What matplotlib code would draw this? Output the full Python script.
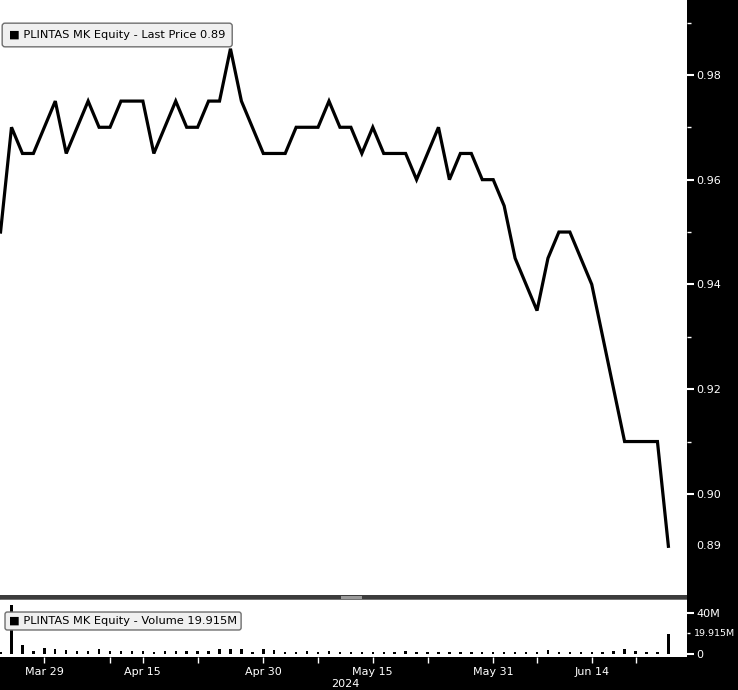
import matplotlib
matplotlib.use("Agg")
import matplotlib.pyplot as plt
import matplotlib.transforms as mtransforms
import numpy as np
import pandas as pd

# ---------------- data ----------------
holidays = ['2024-04-10', '2024-04-11', '2024-05-01', '2024-05-22', '2024-06-03', '2024-06-17']
dates = pd.bdate_range('2024-03-25', '2024-06-26', freq='C', holidays=holidays)

price = [0.95, 0.97, 0.965, 0.965, 0.97, 0.975, 0.965, 0.97, 0.975, 0.97,
         0.97, 0.975, 0.975, 0.975, 0.965, 0.97, 0.975, 0.97, 0.97, 0.975,
         0.975, 0.985, 0.975, 0.97, 0.965, 0.965, 0.965, 0.97, 0.97, 0.97,
         0.975, 0.97, 0.97, 0.965, 0.97, 0.965, 0.965, 0.965, 0.96, 0.965,
         0.97, 0.96, 0.965, 0.965, 0.96, 0.96, 0.955, 0.945, 0.94, 0.935,
         0.945, 0.95, 0.95, 0.945, 0.94, 0.93, 0.92, 0.91, 0.91, 0.91,
         0.91, 0.89]

volume_m = [2, 48, 9, 3, 6, 5, 4, 3, 3, 5,
            3, 3, 2.5, 2.5, 2, 3, 3, 3, 2.5, 2.5,
            4.5, 5, 5, 2, 5, 3.5, 2, 2, 3, 2,
            3, 2, 2, 2, 2, 2, 2, 3, 2, 2,
            2, 2, 2, 2, 2, 2, 2, 2, 2, 2,
            3.5, 2, 2, 2, 2, 2, 3, 4.5, 2.5, 2,
            1.5, 19.915]

price_ticks = [0.90, 0.92, 0.94, 0.96, 0.98]
price_minor = [0.91, 0.93, 0.95, 0.97, 0.99]
label_dates = ['2024-03-29', '2024-04-15', '2024-04-30', '2024-05-15', '2024-05-31', '2024-06-14']
label_text = ['Mar 29', 'Apr 15', 'Apr 30', 'May 15', 'May 31', 'Jun 14']
minor_dates = ['2024-04-08', '2024-04-22', '2024-05-08', '2024-05-23', '2024-06-07', '2024-06-21']
last_price = 0.89
last_volume = 19.915

# ---------------- figure ----------------
W, H = 738, 690
fig = plt.figure(figsize=(W / 100, H / 100), dpi=100, facecolor='black')

x = np.arange(len(dates))
xlim = (-0.05, 62.7)

def fx(px):
    return px / W

def fy(py):
    return 1 - py / H

# price panel: pixels y 0..595, x 0..687
ax = fig.add_axes([0, fy(595), fx(687), 595 / H])
ax.set_facecolor('white')
ax.plot(x, price, color='black', lw=2.3, solid_joinstyle='miter')
ax.set_xlim(*xlim)
ax.set_ylim(0.8807, 0.9943)
ax.yaxis.tick_right()
ax.set_yticks(price_ticks)
ax.set_yticklabels([f'{v:.2f}' for v in price_ticks])
ax.set_yticks(price_minor, minor=True)
ax.tick_params(axis='y', which='major', colors='white', labelcolor='white',
               length=5, width=1.5, pad=2, labelsize=8)
ax.tick_params(axis='y', which='minor', colors='white', length=3, width=1)
ax.set_xticks([])
for s in ax.spines.values():
    s.set_visible(False)
trans = mtransforms.blended_transform_factory(ax.transAxes, ax.transData)
ax.annotate(f'{last_price:.2f}', xy=(1.0, last_price), xycoords=trans,
            xytext=(7, 0), textcoords='offset points', color='white',
            fontsize=8, va='center', ha='left')
ax.text(9 / 687, 1 - 35 / 595, '\u25A0 PLINTAS MK Equity - Last Price 0.89',
        transform=ax.transAxes, fontsize=8.2, color='black', va='center', ha='left',
        bbox=dict(boxstyle='round,pad=0.6,rounding_size=0.25', facecolor='#f0f0f0',
                  edgecolor='#6e6e6e', lw=1))

# separator band
sep = fig.add_axes([0, fy(600), fx(687), 5 / H])
sep.set_facecolor('#3c3c3c')
sep.set_xticks([]); sep.set_yticks([])
for s in sep.spines.values():
    s.set_visible(False)
sep.axhline(0.2, color='#808080', lw=0.6)
sep.add_patch(plt.Rectangle((0.497, 0.2), 0.03, 0.6, transform=sep.transAxes,
                            facecolor='#9a9a9a', edgecolor='none'))

# volume panel: pixels y 600..657
axv = fig.add_axes([0, fy(657), fx(687), 57 / H])
axv.set_facecolor('white')
axv.bar(x, volume_m, width=0.22, color='black')
axv.set_xlim(*xlim)
axv.set_ylim(-3, 52.6)
axv.yaxis.tick_right()
axv.set_yticks([0, 40])
axv.set_yticklabels(['0', '40M'])
axv.set_yticks([20], minor=True)
axv.tick_params(axis='y', which='major', colors='white', labelcolor='white',
                length=5, width=1.5, pad=2, labelsize=8)
axv.tick_params(axis='y', which='minor', colors='white', length=2, width=1)
transv = mtransforms.blended_transform_factory(axv.transAxes, axv.transData)
axv.annotate(f'{last_volume:.3f}M', xy=(1.0, last_volume), xycoords=transv,
             xytext=(5, 0), textcoords='offset points', color='white',
             fontsize=6.8, va='center', ha='left')
for s in axv.spines.values():
    s.set_visible(False)

pos = [dates.get_loc(pd.Timestamp(d)) for d in label_dates]
mpos = [dates.get_loc(pd.Timestamp(d)) for d in minor_dates]
axv.set_xticks(pos)
axv.set_xticklabels(label_text)
axv.set_xticks(mpos, minor=True)
axv.tick_params(axis='x', which='both', colors='white', labelcolor='white',
                length=4, width=1, pad=3, labelsize=8)

axv.text(9 / 687, 1 - 21 / 57, '\u25A0 PLINTAS MK Equity - Volume 19.915M',
         transform=axv.transAxes, fontsize=8.2, color='black', va='center', ha='left',
         bbox=dict(boxstyle='round,pad=0.35,rounding_size=0.2', facecolor='#f0f0f0',
                   edgecolor='#6e6e6e', lw=1), zorder=5)

fig.text(fx(345), fy(684), '2024', color='white', fontsize=8, ha='center', va='center')

fig.savefig('out.png', dpi=100, facecolor='black')
